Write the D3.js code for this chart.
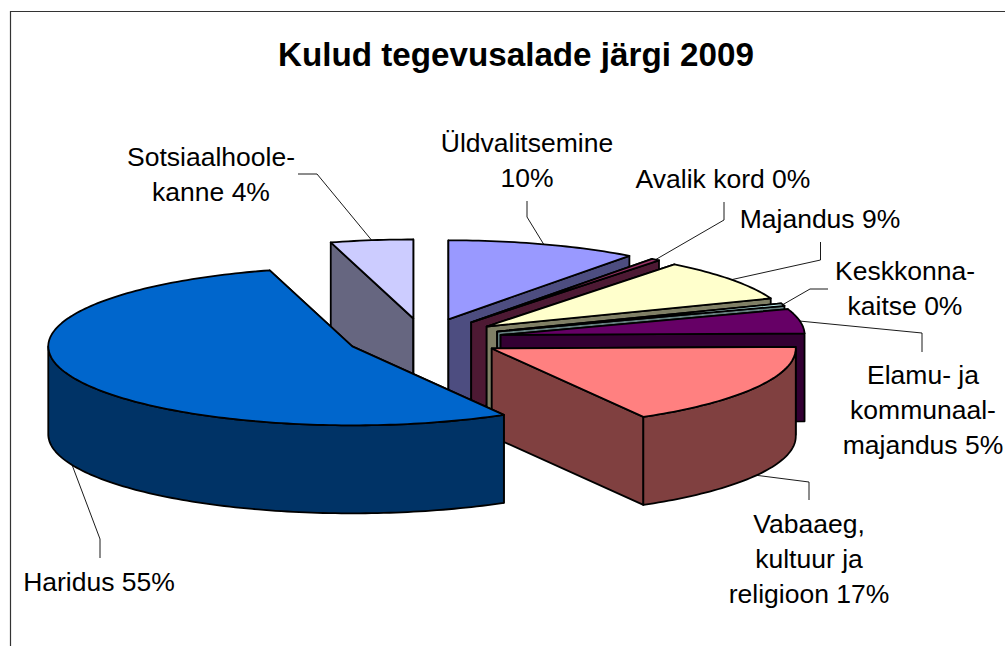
<!DOCTYPE html>
<html><head><meta charset="utf-8">
<script src="https://cdn.jsdelivr.net/npm/d3@7"></script>
<style>html,body{margin:0;padding:0;background:#fff;overflow:hidden}svg{display:block}text{font-family:"Liberation Sans",Arial,sans-serif;fill:#000}</style>
</head><body><svg id="c" width="1005" height="646"></svg>
<script>
const title = "Kulud tegevusalade järgi 2009";
const categories = ["Üldvalitsemine","Avalik kord","Majandus","Keskkonnakaitse","Elamu- ja kommunaalmajandus","Vabaaeg, kultuur ja religioon","Haridus","Sotsiaalhoolekanne"];
const shares = [10.2,0.45,8.65,0.5,5,17.1,54.2,4.4];
const labelLines = [["Üldvalitsemine","10%"],["Avalik kord 0%"],["Majandus 9%"],["Keskkonna-","kaitse 0%"],["Elamu- ja","kommunaal-","majandus 5%"],["Vabaaeg,","kultuur ja","religioon 17%"],["Haridus 55%"],["Sotsiaalhoole-","kanne 4%"]];
const topColors = ["#9999FF","#993366","#FFFFCC","#CCFFFF","#660066","#FF8080","#0066CC","#CCCCFF"];
const wallColors = ["#4D4D80","#4D1933","#808066","#668080","#330033","#804040","#003366","#666680"];
const drawOrder = [7,0,1,2,3,4,5,6];

// layout (pixels): label anchors and leader elbows
const labelAnchor = [[527,152],[723,188],[820,228],[905,280],[923,384],[809,533],[99,591],[211,166]];
const leaderElbows = [[[527,217],[527,201]],[[724,220],[724,202]],[[820.5,260],[820.5,242]],[[810,289],[828,289]],[[922,333],[922,352]],[[809,482],[809,500]],[[100,539],[100,558]],[[317,174],[298,174]]];
const lineStep = 34.8, fontSize = 26.5;
const cx = 424, cy = 338.5, rx = 304, ry = 79, depth = 88, explode = 0.256;

const svg = d3.select("#c");
svg.append("path").attr("d","M1005,11.5H10.5V646").attr("fill","none").attr("stroke","#333").attr("stroke-width",1.2);
svg.append("text").attr("x",516).attr("y",66).attr("text-anchor","middle").attr("font-weight","bold").attr("font-size",33.2).text(title);

const xS = d3.scaleLinear().domain([-1,1]).range([cx-rx,cx+rx]);
const yS = d3.scaleLinear().domain([-1,1]).range([cy-ry,cy+ry]);
const line = d3.line();
const slices = d3.pie().sort(null).value(d=>d)(shares);
const offset = s => { const m=(s.startAngle+s.endAngle)/2; return [Math.sin(m)*explode, -Math.cos(m)*explode]; };
const pt = (s,r,a,dz=0) => { const o=offset(s); return [xS(o[0]+r*Math.sin(a)), yS(o[1]-r*Math.cos(a))+dz]; };
const arcPts = (s,a0,a1,dz=0) => { const n=Math.max(2,Math.ceil((a1-a0)/0.02)); return d3.range(n+1).map(i=>pt(s,1,a0+(a1-a0)*i/n,dz)); };

const pie = svg.append("g").attr("stroke","#000").attr("stroke-width",1.8).attr("stroke-linejoin","round");
drawOrder.forEach(i=>{
  const s=slices[i], a0=s.startAngle, a1=s.endAngle, c=pt(s,0,0), g=pie.append("g");
  const wall = a => [c, pt(s,1,a), pt(s,1,a,depth), pt(s,0,0,depth)];
  g.append("path").attr("d",line(wall(a0))+"Z").attr("fill",wallColors[i]);
  g.append("path").attr("d",line(wall(a1))+"Z").attr("fill",wallColors[i]);
  const b0=Math.max(a0,Math.PI/2), b1=Math.min(a1,Math.PI*1.5);
  if(b1>b0){
    const t=arcPts(s,b0,b1), bt=arcPts(s,b0,b1,depth).reverse();
    g.append("path").attr("d",line(t.concat(bt))+"Z").attr("fill",wallColors[i]);
  }
  g.append("path").attr("d",line([c].concat(arcPts(s,a0,a1)))+"Z").attr("fill",topColors[i]);
});

const leaders = svg.append("g").attr("fill","none").attr("stroke","#000").attr("stroke-width",0.9);
slices.forEach((s,i)=>{
  const m=(s.startAngle+s.endAngle)/2, front=Math.cos(m)<-0.3;
  leaders.append("path").attr("d",line([pt(s,1,m,front?depth:0)].concat(leaderElbows[i])));
});
const labels = svg.append("g").attr("text-anchor","middle").attr("font-size",fontSize);
labelLines.forEach((ls,i)=>ls.forEach((t,j)=>labels.append("text").attr("x",labelAnchor[i][0]).attr("y",labelAnchor[i][1]+j*lineStep).text(t)));
</script></body></html>
